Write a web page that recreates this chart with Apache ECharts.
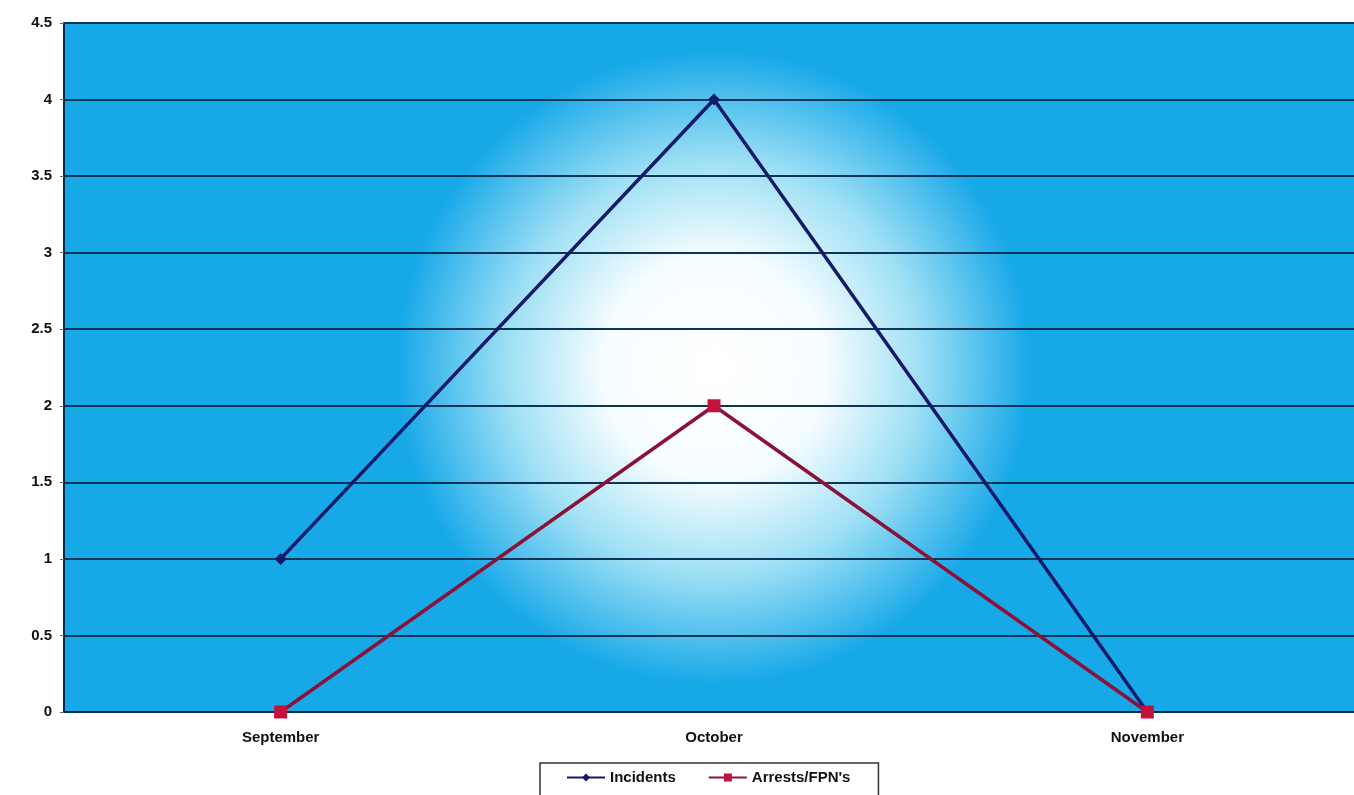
<!DOCTYPE html>
<html>
<head>
<meta charset="utf-8">
<script src="https://cdn.jsdelivr.net/npm/echarts@6/dist/echarts.min.js"></script>
<style>html,body{margin:0;padding:0;background:#fff}#c{width:1354px;height:795px}</style>
</head>
<body>
<div id="c"></div>
<script>
var categories = ['September', 'October', 'November'];
var incidents = [1, 4, 0];
var arrests = [0, 2, 0];
var seriesNames = ['Incidents', "Arrests/FPN's"];

var chart = echarts.init(document.getElementById('c'));
var labelFont = {fontFamily: 'Liberation Sans, Arial, sans-serif', fontWeight: 'bold', fontSize: 15, color: '#111'};
chart.setOption({
  animation: false,
  grid: {
    left: 64, width: 1300, top: 23, bottom: 83,
    outerBoundsMode: 'none',
    containLabel: false,
    show: true,
    borderWidth: 0,
    backgroundColor: {
      type: 'radial', x: 0.5, y: 0.5, r: 0.46,
      colorStops: [
        {offset: 0, color: '#ffffff'},
        {offset: 0.35, color: '#f6fdff'},
        {offset: 0.65, color: '#9fe0f5'},
        {offset: 1, color: '#17a8e8'}
      ]
    }
  },
  legend: {
    top: 763, left: 540,
    itemWidth: 38, itemHeight: 10, itemGap: 32,
    borderColor: '#333', borderWidth: 1.5,
    padding: [7, 28, 14, 26],
    backgroundColor: '#fff',
    textStyle: {fontFamily: 'Liberation Sans, Arial, sans-serif', fontWeight: 'bold', fontSize: 15, color: '#111'},
    data: seriesNames
  },
  xAxis: {
    type: 'category', data: categories, boundaryGap: true,
    axisLine: {lineStyle: {color: '#0b2a4a', width: 2}},
    axisTick: {show: false},
    axisLabel: Object.assign({margin: 18}, labelFont),
    splitLine: {show: false}
  },
  yAxis: {
    type: 'value', min: 0, max: 4.5, interval: 0.5,
    axisLine: {show: true, lineStyle: {color: '#0b2a4a', width: 2}},
    axisTick: {show: true, length: 4, lineStyle: {color: '#666'}},
    axisLabel: Object.assign({margin: 12}, labelFont),
    splitLine: {show: true, lineStyle: {color: '#0d3558', width: 2}}
  },
  series: [
    {
      name: seriesNames[0], type: 'line', data: incidents,
      symbol: 'diamond', symbolSize: 12,
      lineStyle: {color: '#14196b', width: 3.5},
      itemStyle: {color: '#14196b'}
    },
    {
      name: seriesNames[1], type: 'line', data: arrests,
      symbol: 'rect', symbolSize: 13,
      lineStyle: {color: '#8a1238', width: 3.5},
      itemStyle: {color: '#c4123e'}
    }
  ]
});
</script>
</body>
</html>
